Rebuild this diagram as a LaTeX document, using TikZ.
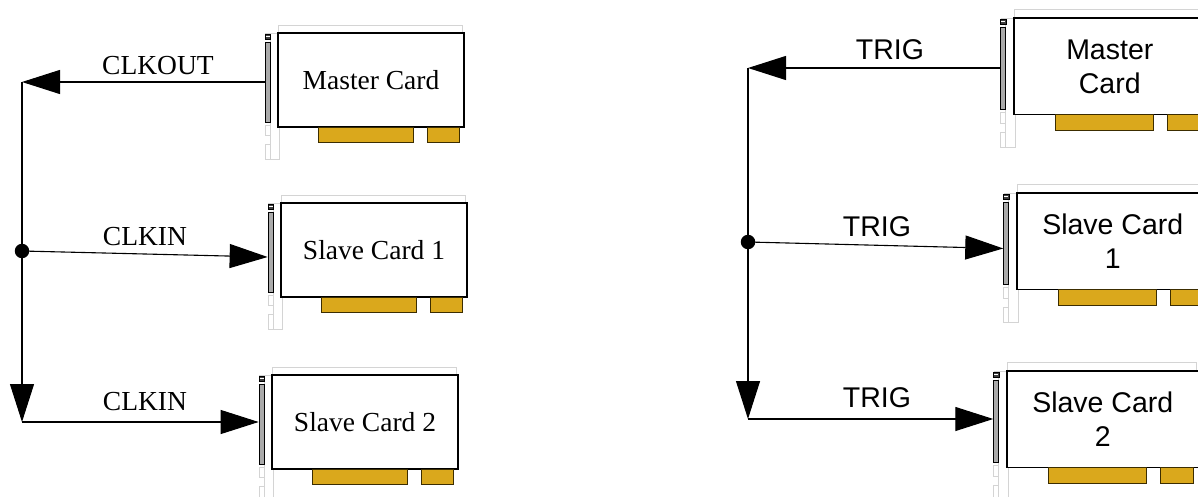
\documentclass[tikz,border=0pt]{standalone}
\usepackage{fontspec}
\setmainfont{Liberation Serif}
\newfontfamily\arialfont{Liberation Sans}
\usetikzlibrary{arrows.meta}
\definecolor{goldpin}{RGB}{218,168,28}
\definecolor{pinedge}{RGB}{60,45,0}
\definecolor{framegrey}{RGB}{212,212,212}
\definecolor{bracketgrey}{RGB}{170,170,170}
\tikzset{
 frameline/.style={draw=framegrey, line width=0.9pt},
 bracketbox/.style={draw=black, fill=bracketgrey, line width=0.7pt, inner sep=0pt},
 cardbox/.style={draw=black, fill=white, line width=1.1pt, inner sep=0pt},
 pinbox/.style={draw=pinedge, fill=goldpin, line width=0.8pt},
 sig/.style={draw=black, line width=1.1pt},
 bigtip/.style={-{Triangle[length=38pt,width=24pt]}},
 junction/.style={circle, fill=black, inner sep=0pt, minimum size=14.5pt},
 serlabel/.style={font=\fontsize{27.5}{32}\selectfont},
 sanslabel/.style={font=\arialfont\fontsize{28.5}{34}\selectfont},
}
\newcommand\pcicard[6]{%
 \begin{scope}[shift={(#2,#3)}, scale=#4]
  \draw[frameline] (0,-8) rectangle (184,0);
  \draw[frameline] (-13,0) -- (0,0);
  \draw[frameline] (-8,0) rectangle (1,126);
  \draw[frameline] (-13,92) rectangle (-8,102);
  \draw[frameline] (-13,111) rectangle (-8,126);
  \node[cardbox, minimum width={186pt*#4}, minimum height={94pt*#4}, align=center, #6] (#1) at (93,47) {#5};
  \node[bracketbox, minimum width={5pt*#4}, minimum height={80pt*#4}] (#1b) at (-10.5,49) {};
  \draw[fill=black!75, draw=black, line width=0.5pt] (-13,1) rectangle (-8,6);
  \draw[white, line width=0.4pt] (-12.5,3.5) -- (-8.5,3.5);
  \draw[pinbox] (40,94) rectangle (135,109);
  \draw[pinbox] (149,94) rectangle (181,109);
 \end{scope}}
\begin{document}
\begin{tikzpicture}[x=1pt,y=-1pt]
\useasboundingbox (0,0) rectangle (1198,497);
\clip (0,0) rectangle (1198,497);
% left cards
\pcicard{lm}{278}{33}{1}{Master Card}{serlabel}
\pcicard{ls1}{281}{203}{1}{Slave Card 1}{serlabel}
\pcicard{ls2}{272}{375}{1}{Slave Card 2}{serlabel}
% right cards
\pcicard{rm}{1014}{18}{1.03}{Master\\Card}{sanslabel}
\pcicard{rs1}{1017}{193}{1.03}{Slave Card\\1}{sanslabel}
\pcicard{rs2}{1007}{371}{1.03}{Slave Card\\2}{sanslabel}
% left connectors
\coordinate (ltop) at (22,82);
\coordinate (lbot) at (22,422);
\draw[sig,bigtip] (ltop -| lmb.west) -- (ltop);
\draw[sig,bigtip] (ltop) -- (lbot);
\node[junction] (ldot) at (22,251) {};
\draw[sig,bigtip] (ldot.center) -- ([yshift=-5pt]ls1b.west);
\draw[sig,bigtip] (lbot) -- (lbot -| ls2b.west);
\node[serlabel] (lclkout) at (158,66) {CLKOUT};
\node[serlabel] (lclkin1) at (145,237) {CLKIN};
\node[serlabel] (lclkin2) at (145,402) {CLKIN};
% right connectors
\coordinate (rtop) at (748,68);
\coordinate (rbot) at (748,419);
\draw[sig,bigtip] (rtop -| rmb.west) -- (rtop);
\draw[sig,bigtip] (rtop) -- (rbot);
\node[junction] (rdot) at (748,242) {};
\draw[sig,bigtip] (rdot.center) -- ([yshift=-5pt]rs1b.west);
\draw[sig,bigtip] (rbot) -- (rbot -| rs2b.west);
\node[sanslabel] (rtrig1) at (890,50) {TRIG};
\node[sanslabel] (rtrig2) at (877,227) {TRIG};
\node[sanslabel] (rtrig3) at (877,398) {TRIG};
\end{tikzpicture}
\end{document}
